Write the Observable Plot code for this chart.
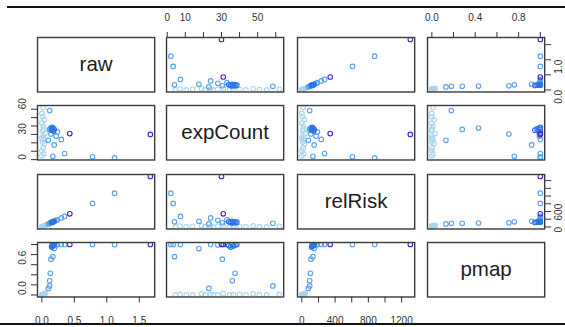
<!DOCTYPE html>
<html>
<head>
<meta charset="utf-8">
<script src="https://cdn.jsdelivr.net/npm/d3@7"></script>
<script src="https://cdn.jsdelivr.net/npm/@observablehq/plot@0.6"></script>
<style>
html, body { margin: 0; padding: 0; background: #fff; }
#chart { position: relative; width: 565px; height: 327px; overflow: hidden; font-family: "Liberation Sans", Arial, sans-serif; background: #fff; }
.rule { position: absolute; height: 2px; background: #111; }
</style>
</head>
<body>
<div id="chart">
  <div class="rule" style="left:7px; right:0; top:6px;"></div>
  <div class="rule" style="left:0; right:0; top:323px;"></div>
</div>
<script>
// ---- data ----
const variables = ["raw", "expCount", "relRisk", "pmap"];

const raw = [
  0.00, 0.03, 0.00, 0.02, 0.04, 0.01, 0.03, 0.00, 0.02, 0.05, 0.01, 0.03, 0.02, 0.00, 0.04, 0.01, 0.00, 0.02,
  0.12, 0.10, 0.12, 0.13, 0.14, 0.17, 0.19, 0.30, 0.35, 0.78, 1.12, 0.22, 0.24,
  0.15, 0.16, 0.17, 0.18, 0.16, 0.19,
  1.67, 0.43
];
const expCount = [
  4.5, 7.0, 10.5, 14.0, 19.0, 21.0, 24.0, 25.5, 28.0, 31.0, 34.5, 36.5, 40.0, 43.5, 47.5, 51.0, 55.0, 62.0,
  58.4, 23.0, 36.0, 37.5, 30.5, 4.0, 17.5, 24.0, 7.3, 3.3, 2.0, 28.0, 33.0,
  35.0, 36.5, 37.5, 34.0, 38.5, 36.0,
  30.0, 31.0
];
const relRisk = [
  0, 23, 0, 16, 31, 8, 23, 0, 16, 39, 8, 23, 16, 0, 31, 8, 0, 16,
  94, 78, 94, 102, 109, 133, 148, 234, 273, 609, 875, 172, 187,
  117, 125, 133, 141, 125, 148,
  1305, 341
];
const pmap = [
  0, 0.01, 0, 0, 0.02, 0, 0.01, 0, 0, 0.03, 0, 0, 0.01, 0, 0.02, 0, 0, 0.01,
  0.18, 0.13, 0.28, 0.43, 0.71, 0.76, 0.92, 1, 1, 1, 1, 0.99, 1,
  0.95, 0.97, 0.99, 0.98, 1, 1,
  1, 1
];
// colour class of each point (0 = lightest ... 3 = darkest)
const shade = [
  0, 0, 0, 0, 0, 0, 0, 0, 0, 0, 0, 0, 0, 0, 0, 0, 0, 0,
  1, 1, 1, 1, 1, 1, 1, 1, 1, 1, 1, 1, 1,
  2, 2, 2, 2, 2, 2,
  3, 3
];
const shadeColors = ["#a9d6ee", "#5aa2ea", "#2c74e6", "#4a25c8"];

// tick values and the labels R kept on each axis
const rawTicks = [0, 0.5, 1, 1.5];
const expTicks = [0, 10, 20, 30, 40, 50, 60];
const relTicks = [0, 200, 400, 600, 800, 1000, 1200];
const pmapTicks = [0, 0.2, 0.4, 0.6, 0.8, 1];
const rawHLabels = [0, 0.5, 1, 1.5];
const expHLabels = [0, 10, 30, 50];
const relHLabels = [0, 400, 800, 1200];
const pmapHLabels = [0, 0.4, 0.8];
const rawVLabels = [0, 1];
const expVLabels = [0, 30, 60];
const relVLabels = [0, 600];
const pmapVLabels = [0, 0.6];

// ---- assembly ----
const series = [raw, expCount, relRisk, pmap];
const ticks = [rawTicks, expTicks, relTicks, pmapTicks];
const hLabels = [rawHLabels, expHLabels, relHLabels, pmapHLabels];
const vLabels = [rawVLabels, expVLabels, relVLabels, pmapVLabels];
const fmts = [d3.format(".1f"), d3.format("d"), d3.format("d"), d3.format(".1f")];

const colLeft = [37.3, 166.3, 296.8, 426.8];
const rowTop = [37.2, 105.2, 173.5, 242.0];
const W = 117.2, H = 54.5;
const FONT = "'Liberation Sans', Arial, sans-serif";

function padded(arr) {
  const [a, b] = d3.extent(arr);
  const r = b - a;
  return [a - 0.04 * r, b + 0.04 * r];
}

const chart = document.getElementById("chart");

for (let i = 0; i < 4; i++) {
  for (let j = 0; j < 4; j++) {
    const style = `position:absolute; left:${colLeft[j]}px; top:${rowTop[i]}px; background:transparent; overflow:visible; max-width:none; font-family:${FONT}; font-size:10px; color:#333;`;
    const frame = Plot.frame({stroke: "#3a3a3a", strokeWidth: 1.4});
    let svg;
    if (i === j) {
      svg = Plot.plot({
        width: W, height: H, margin: 0, style,
        x: {domain: [0, 1], axis: null},
        y: {domain: [0, 1], axis: null},
        marks: [
          frame,
          Plot.text([variables[i]], {frameAnchor: "middle", text: d => d, fontSize: 20.5, fill: "#1c1c1c", fontFamily: FONT})
        ]
      });
    } else {
      const xs = series[j], ys = series[i];
      const idx = d3.range(xs.length);
      const topAxis = i === 0 && j % 2 === 1;
      const bottomAxis = i === 3 && j % 2 === 0;
      const leftAxis = j === 0 && i % 2 === 1;
      const rightAxis = j === 3 && i % 2 === 0;
      const xOpts = {domain: padded(xs)};
      if (topAxis || bottomAxis) {
        const set = new Set(hLabels[j]);
        Object.assign(xOpts, {
          axis: topAxis ? "top" : "bottom",
          ticks: ticks[j], tickSize: 6,
          tickPadding: topAxis ? 11 : 14,
          tickFormat: d => set.has(d) ? fmts[j](d) : "",
          label: null
        });
      } else xOpts.axis = null;
      const yOpts = {domain: padded(ys)};
      if (leftAxis || rightAxis) {
        Object.assign(yOpts, {
          axis: leftAxis ? "left" : "right",
          ticks: ticks[i], tickSize: 6,
          tickFormat: () => "",
          label: null
        });
      } else yOpts.axis = null;
      const marks = [
        Plot.dot(idx, {
          x: k => xs[k], y: k => ys[k], r: 2.3,
          stroke: k => shadeColors[shade[k]], strokeWidth: 1.1, fill: "none", clip: true
        }),
        frame
      ];
      if (leftAxis || rightAxis) {
        marks.push(Plot.text(vLabels[i], {
          y: d => d, text: d => fmts[i](d),
          frameAnchor: leftAxis ? "left" : "right",
          dx: leftAxis ? -15 : 14, rotate: -90,
          fontSize: 10, fill: "#333", fontFamily: FONT
        }));
      }
      svg = Plot.plot({
        width: W, height: H, margin: 0, style,
        x: xOpts, y: yOpts,
        color: {type: "identity"},
        marks
      });
    }
    chart.appendChild(svg);
  }
}
</script>
</body>
</html>
